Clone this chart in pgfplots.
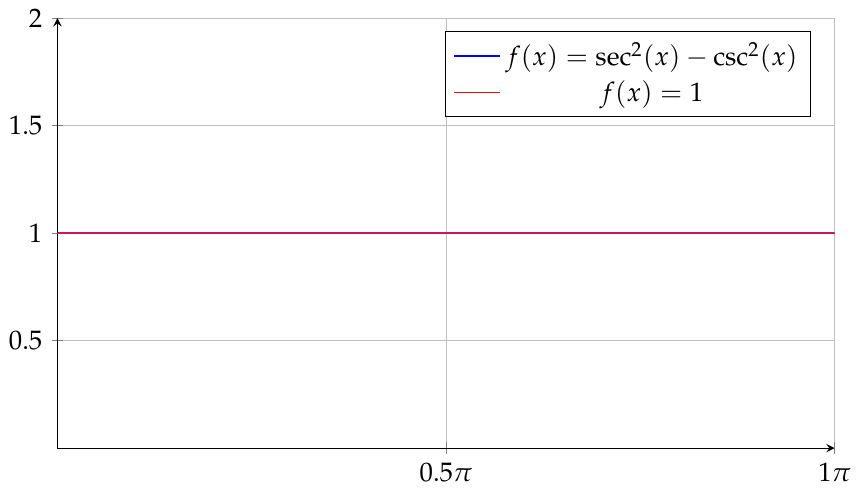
\documentclass[border=0pt]{standalone}
\usepackage{mathpazo}
\usepackage{pgfplots}
\pgfplotsset{compat=1.18}
\definecolor{mixline}{RGB}{205,20,95}
\begin{document}
\begin{tikzpicture}
\begin{axis}[
  scale only axis,
  width=291pt, height=161pt,
  axis lines=left,
  xmin=0, xmax=3.14159265, ymin=0, ymax=2,
  xtick={1.5707963,3.14159265},
  xticklabels={$0.5\pi$,$1\pi$},
  ytick={0.5,1,1.5,2},
  yticklabels={$0.5$,$1$,$1.5$,$2$},
  grid=major,
  legend cell align=center,
  legend pos=north east,
]
\addplot[blue, no markers] table {
x y
0 1
0.7854 1
1.5708 1
2.3562 1
3.1416 1
};
\addlegendentry{$f(x)=\sec^2(x)-\csc^2(x)$}
\addplot[mixline, no markers, line width=0.75pt, legend image post style={red, line width=0.4pt}] table {
x y
0 1
0.7854 1
1.5708 1
2.3562 1
3.1416 1
};
\addlegendentry{$f(x)=1$}
\end{axis}
\end{tikzpicture}
\end{document}
